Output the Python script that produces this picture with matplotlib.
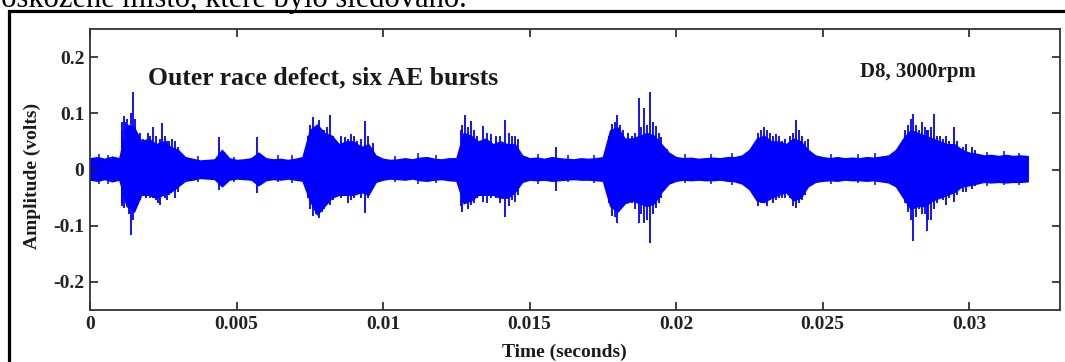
import matplotlib
matplotlib.use("Agg")
import matplotlib.pyplot as plt
from matplotlib.patches import Rectangle

plt.rcParams['font.family'] = ['Liberation Serif', 'DejaVu Serif']

# core envelope of the AE signal (volts), every 0.25 ms (one row = 1 ms)
core_t = [0.00000, 0.00025, 0.00050, 0.00075,
          0.00100, 0.00125, 0.00150, 0.00175,
          0.00200, 0.00225, 0.00250, 0.00275,
          0.00300, 0.00325, 0.00350, 0.00375,
          0.00400, 0.00425, 0.00450, 0.00475,
          0.00500, 0.00525, 0.00550, 0.00575,
          0.00600, 0.00625, 0.00650, 0.00675,
          0.00700, 0.00725, 0.00750, 0.00775,
          0.00800, 0.00825, 0.00850, 0.00875,
          0.00900, 0.00925, 0.00950, 0.00975,
          0.01000, 0.01025, 0.01050, 0.01075,
          0.01100, 0.01125, 0.01150, 0.01175,
          0.01200, 0.01225, 0.01250, 0.01275,
          0.01300, 0.01325, 0.01350, 0.01375,
          0.01400, 0.01425, 0.01450, 0.01475,
          0.01500, 0.01525, 0.01550, 0.01575,
          0.01600, 0.01625, 0.01650, 0.01675,
          0.01700, 0.01725, 0.01750, 0.01775,
          0.01800, 0.01825, 0.01850, 0.01875,
          0.01900, 0.01925, 0.01950, 0.01975,
          0.02000, 0.02025, 0.02050, 0.02075,
          0.02100, 0.02125, 0.02150, 0.02175,
          0.02200, 0.02225, 0.02250, 0.02275,
          0.02300, 0.02325, 0.02350, 0.02375,
          0.02400, 0.02425, 0.02450, 0.02475,
          0.02500, 0.02525, 0.02550, 0.02575,
          0.02600, 0.02625, 0.02650, 0.02675,
          0.02700, 0.02725, 0.02750, 0.02775,
          0.02800, 0.02825, 0.02850, 0.02875,
          0.02900, 0.02925, 0.02950, 0.02975,
          0.03000, 0.03025, 0.03050, 0.03075,
          0.03100, 0.03125, 0.03150, 0.03175,
          0.03200]
core_hi = [0.020, 0.022, 0.019, 0.023,
           0.020, 0.080, 0.075, 0.050,
           0.055, 0.045, 0.050, 0.040,
           0.035, 0.022, 0.019, 0.016,
           0.017, 0.018, 0.035, 0.020,
           0.017, 0.018, 0.020, 0.030,
           0.020, 0.018, 0.019, 0.017,
           0.019, 0.022, 0.070, 0.080,
           0.065, 0.060, 0.045, 0.050,
           0.050, 0.040, 0.045, 0.025,
           0.019, 0.017, 0.018, 0.020,
           0.018, 0.021, 0.022, 0.019,
           0.018, 0.020, 0.020, 0.065,
           0.060, 0.050, 0.055, 0.045,
           0.050, 0.045, 0.045, 0.025,
           0.020, 0.021, 0.019, 0.022,
           0.020, 0.019, 0.018, 0.020,
           0.019, 0.020, 0.022, 0.070,
           0.075, 0.055, 0.055, 0.060,
           0.065, 0.060, 0.045, 0.030,
           0.022, 0.020, 0.021, 0.019,
           0.020, 0.021, 0.020, 0.022,
           0.022, 0.025, 0.035, 0.055,
           0.060, 0.050, 0.050, 0.045,
           0.055, 0.050, 0.035, 0.025,
           0.022, 0.020, 0.022, 0.020,
           0.021, 0.020, 0.022, 0.021,
           0.023, 0.025, 0.035, 0.055,
           0.070, 0.065, 0.060, 0.055,
           0.050, 0.045, 0.045, 0.035,
           0.030, 0.028, 0.025, 0.026,
           0.024, 0.026, 0.024, 0.025,
           0.024]
core_lo = [-0.018, -0.020, -0.017, -0.021,
           -0.018, -0.065, -0.075, -0.045,
           -0.045, -0.050, -0.045, -0.040,
           -0.030, -0.020, -0.018, -0.015,
           -0.016, -0.017, -0.030, -0.018,
           -0.016, -0.017, -0.018, -0.028,
           -0.019, -0.017, -0.018, -0.016,
           -0.018, -0.020, -0.055, -0.080,
           -0.065, -0.050, -0.045, -0.045,
           -0.045, -0.040, -0.045, -0.022,
           -0.018, -0.016, -0.017, -0.018,
           -0.016, -0.019, -0.020, -0.018,
           -0.017, -0.019, -0.020, -0.060,
           -0.055, -0.045, -0.045, -0.045,
           -0.050, -0.050, -0.040, -0.022,
           -0.018, -0.019, -0.018, -0.020,
           -0.019, -0.018, -0.017, -0.018,
           -0.018, -0.019, -0.020, -0.065,
           -0.075, -0.060, -0.055, -0.060,
           -0.065, -0.060, -0.040, -0.025,
           -0.020, -0.018, -0.019, -0.018,
           -0.019, -0.019, -0.018, -0.020,
           -0.021, -0.025, -0.035, -0.055,
           -0.058, -0.050, -0.045, -0.040,
           -0.055, -0.050, -0.030, -0.022,
           -0.020, -0.019, -0.020, -0.018,
           -0.019, -0.019, -0.020, -0.019,
           -0.021, -0.023, -0.030, -0.050,
           -0.070, -0.065, -0.065, -0.055,
           -0.050, -0.045, -0.040, -0.030,
           -0.028, -0.025, -0.022, -0.023,
           -0.022, -0.023, -0.022, -0.022,
           -0.021]

# tall spikes inside the bursts: time, positive peak, negative peak
spike_t = [0.00108, 0.00115, 0.00125, 0.00140, 0.00147, 0.00160, 0.00180, 0.00205, 0.00215,
           0.00240, 0.00245, 0.00270, 0.00290,
           0.00440, 0.00455, 0.00570,
           0.00745, 0.00760, 0.00780, 0.00800, 0.00820, 0.00840, 0.00870, 0.00890, 0.00910,
           0.00940, 0.00965,
           0.01270, 0.01280, 0.01300, 0.01340, 0.01370, 0.01400, 0.01415, 0.01450, 0.01590,
           0.01770, 0.01780, 0.01800, 0.01820, 0.01850, 0.01875, 0.01890, 0.01910, 0.01930,
           0.01950, 0.01970,
           0.02270, 0.02290, 0.02300, 0.02320, 0.02340, 0.02360, 0.02390, 0.02410, 0.02430,
           0.02450,
           0.02780, 0.02800, 0.02810, 0.02830, 0.02840, 0.02855, 0.02870, 0.02880, 0.02900,
           0.02920, 0.02950, 0.02980, 0.03020]
spike_hi = [0.085, 0.096, 0.090, 0.100, 0.138, 0.060, 0.055, 0.060, 0.076,
            0.055, 0.083, 0.050, 0.050,
            0.057, 0.030, 0.057,
            0.060, 0.094, 0.088, 0.070, 0.097, 0.050, 0.058, 0.064, 0.050,
            0.087, 0.047,
            0.080, 0.097, 0.087, 0.078, 0.063, 0.060, 0.088, 0.060, 0.040,
            0.060, 0.081, 0.097, 0.070, 0.060, 0.127, 0.110, 0.138, 0.078,
            0.057, 0.036,
            0.040, 0.070, 0.076, 0.065, 0.064, 0.050, 0.060, 0.088, 0.060,
            0.054,
            0.070, 0.090, 0.099, 0.070, 0.085, 0.070, 0.075, 0.099, 0.060,
            0.060, 0.076, 0.040, 0.035]
spike_lo = [-0.060, -0.069, -0.050, -0.117, -0.090, -0.060, -0.045, -0.051, -0.050,
            -0.063, -0.040, -0.045, -0.050,
            -0.037, -0.030, -0.042,
            -0.050, -0.083, -0.087, -0.070, -0.063, -0.045, -0.048, -0.054, -0.040,
            -0.078, -0.030,
            -0.075, -0.060, -0.063, -0.058, -0.050, -0.060, -0.084, -0.058, -0.039,
            -0.060, -0.083, -0.095, -0.065, -0.060, -0.095, -0.095, -0.131, -0.069,
            -0.050, -0.030,
            -0.040, -0.060, -0.060, -0.055, -0.055, -0.050, -0.050, -0.069, -0.055,
            -0.030,
            -0.060, -0.090, -0.127, -0.070, -0.080, -0.110, -0.090, -0.070, -0.050,
            -0.064, -0.058, -0.040, -0.030]

# medium spikes that make the bursts ragged
mid_t = [0.00110, 0.00120, 0.00133, 0.00152, 0.00170, 0.00190, 0.00198, 0.00225, 0.00232,
         0.00255, 0.00262, 0.00280, 0.00300,
         0.00750, 0.00770, 0.00790, 0.00810, 0.00830, 0.00855, 0.00880, 0.00900, 0.00925,
         0.00950,
         0.01265, 0.01290, 0.01310, 0.01320, 0.01355, 0.01385, 0.01430, 0.01440, 0.01460,
         0.01790, 0.01810, 0.01835, 0.01860, 0.01880, 0.01900, 0.01920, 0.01940,
         0.02280, 0.02310, 0.02330, 0.02350, 0.02370, 0.02400, 0.02420, 0.02440,
         0.02790, 0.02820, 0.02850, 0.02860, 0.02890, 0.02910, 0.02930, 0.02960, 0.02990,
         0.03010]
mid_hi = [0.070, 0.085, 0.075, 0.090, 0.065, 0.050, 0.065, 0.060, 0.045,
          0.060, 0.050, 0.055, 0.040,
          0.080, 0.075, 0.070, 0.075, 0.060, 0.060, 0.055, 0.060, 0.055,
          0.060,
          0.070, 0.075, 0.070, 0.060, 0.065, 0.060, 0.065, 0.060, 0.055,
          0.085, 0.080, 0.065, 0.065, 0.075, 0.080, 0.085, 0.065,
          0.065, 0.070, 0.060, 0.060, 0.055, 0.065, 0.070, 0.050,
          0.080, 0.080, 0.075, 0.070, 0.060, 0.055, 0.050, 0.050, 0.045,
          0.040]
mid_lo = [-0.065, -0.055, -0.080, -0.070, -0.055, -0.050, -0.040, -0.055, -0.060,
          -0.050, -0.055, -0.040, -0.040,
          -0.070, -0.080, -0.075, -0.060, -0.055, -0.050, -0.060, -0.050, -0.050,
          -0.050,
          -0.065, -0.070, -0.060, -0.050, -0.060, -0.050, -0.065, -0.055, -0.045,
          -0.085, -0.070, -0.060, -0.070, -0.080, -0.090, -0.080, -0.060,
          -0.065, -0.065, -0.060, -0.050, -0.050, -0.065, -0.060, -0.045,
          -0.075, -0.085, -0.080, -0.090, -0.060, -0.055, -0.050, -0.045, -0.040,
          -0.035]

# small fringe spikes on the background noise band
noise_t = [0.0003, 0.0006, 0.0037, 0.0049, 0.0064, 0.0069, 0.0104, 0.0112, 0.0118,
           0.0153, 0.0163, 0.0172, 0.0203, 0.0212, 0.0219, 0.0253, 0.0262, 0.0268,
           0.0306, 0.0312, 0.0317]
noise_hi = [0.027, 0.025, 0.024, 0.023, 0.025, 0.026, 0.024, 0.030, 0.026,
            0.027, 0.025, 0.026, 0.027, 0.028, 0.030, 0.028, 0.027, 0.030,
            0.032, 0.033, 0.030]
noise_lo = [-0.025, -0.026, -0.022, -0.022, -0.023, -0.024, -0.022, -0.025, -0.024,
            -0.026, -0.023, -0.024, -0.024, -0.025, -0.027, -0.026, -0.024, -0.027,
            -0.030, -0.028, -0.028]

x_ticks = [0, 0.005, 0.01, 0.015, 0.02, 0.025, 0.03]
x_labels = ['0', '0.005', '0.01', '0.015', '0.02', '0.025', '0.03']
y_ticks = [-0.2, -0.1, 0, 0.1, 0.2]
y_labels = ['-0.2', '-0.1', '0', '0.1', '0.2']

fig = plt.figure(figsize=(10.65, 3.62), dpi=100)
ax = fig.add_axes([0.0845, 0.1436, 0.9108, 0.7763])

# outer frame of the scanned page figure
fig.patches.append(Rectangle((0.0085, -0.05), 1.1, 1.02, transform=fig.transFigure,
                             fill=False, edgecolor='black', linewidth=2.3))
fig.text(-0.013, 0.981, 'poškozené místo, které bylo sledováno.', fontsize=22,
         ha='left', va='baseline', color='black')

blue = '#0000ff'
ax.fill_between(core_t, core_lo, core_hi, color=blue, linewidth=1.0)
ax.vlines(noise_t, noise_lo, noise_hi, color=blue, linewidth=1.1)
ax.vlines(mid_t, mid_lo, mid_hi, color=blue, linewidth=1.3)
ax.vlines(spike_t, spike_lo, spike_hi, color=blue, linewidth=1.3)

ax.set_xlim(0, 0.0331)
ax.set_ylim(-0.25, 0.25)
ax.set_xticks(x_ticks)
ax.set_xticklabels(x_labels)
ax.set_yticks(y_ticks)
ax.set_yticklabels(y_labels)
ax.tick_params(direction='in', length=6, width=1.2, top=True, right=True,
               labelsize=14, pad=4, colors='#222222')
for lab in ax.get_xticklabels() + ax.get_yticklabels():
    lab.set_fontweight('bold')
for s in ax.spines.values():
    s.set_linewidth(1.3)
    s.set_color('#333333')

ax.text(0.0598, 0.804, 'Outer race defect, six AE bursts', transform=ax.transAxes,
        fontsize=18.5, fontweight='bold', ha='left', va='baseline', color='#1a1a1a')
ax.text(0.913, 0.829, 'D8, 3000rpm', transform=ax.transAxes,
        fontsize=15, fontweight='bold', ha='right', va='baseline', color='#1a1a1a')

fig.text(0.030, 0.514, 'Amplitude (volts)', rotation=90, fontsize=14, fontweight='bold',
         ha='center', va='center', color='#1a1a1a')
fig.text(0.5296, 0.028, 'Time (seconds)', fontsize=14, fontweight='bold',
         ha='center', va='center', color='#1a1a1a')

fig.savefig('out.png', dpi=100)
